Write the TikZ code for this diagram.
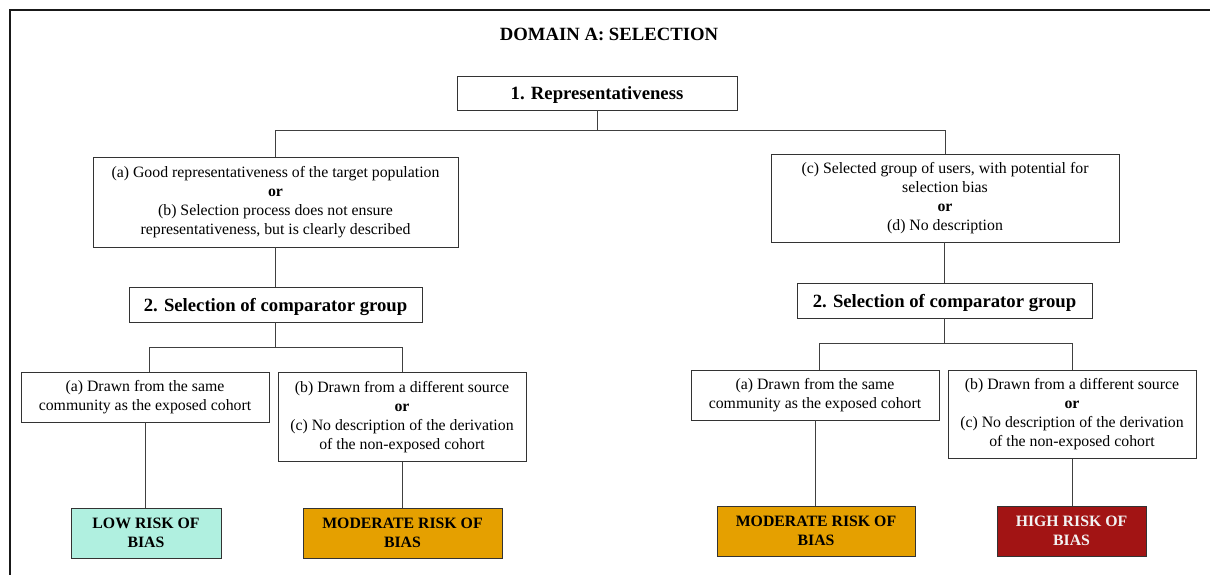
\documentclass[tikz,border=0pt]{standalone}
\usepackage{fontspec}
\setmainfont{Liberation Serif}
\definecolor{lowrisk}{RGB}{176,240,224}
\definecolor{modrisk}{RGB}{229,160,0}
\definecolor{highrisk}{RGB}{162,20,20}
\begin{document}
\begin{tikzpicture}[x=1pt,y=-1pt,
  frame/.style={draw=black!90, line width=1.6pt},
  box/.style={draw=black!80, line width=0.9pt, fill=white, align=center, inner sep=0pt,
    font=\fontsize{15.8}{19}\selectfont},
  head/.style={draw=black!80, line width=0.9pt, fill=white, inner sep=0pt, text depth=0pt,
    font=\fontsize{18.7}{22}\selectfont\bfseries},
  risk/.style={draw=black!80, line width=0.9pt, align=center, inner sep=0pt,
    font=\fontsize{15.8}{19}\selectfont\bfseries},
  link/.style={draw=black!75, line width=0.9pt},
  size/.style 2 args={minimum width=#1pt, minimum height=#2pt}]

\useasboundingbox (0,0) rectangle (1210,575);
\draw[frame] (10,575) -- (10,10) -- (1210,10);

% title and first question
\node[font=\fontsize{18.7}{22}\selectfont\bfseries] (title) at (609,34) {DOMAIN A: SELECTION};
\node[head, size={280}{34}] (r1) at (597,93) {1. Representativeness};

% answers to question 1
\node[box, size={365}{90}] (selA) at (275.5,202)
  {(a) Good representativeness of the target population\\
   \textbf{or}\\
   (b) Selection process does not ensure\\
   representativeness, but is clearly described};
\node[box, size={348}{88}] (selB) at (945,198)
  {(c) Selected group of users, with potential for\\
   selection bias\\
   \textbf{or}\\
   (d) No description};

% second question, per branch
\node[head, size={293}{35}] (cmpL) at (275.5,304.5) {2. Selection of comparator group};
\node[head, size={295}{35}] (cmpR) at (944.5,300.5) {2. Selection of comparator group};

% answers to question 2
\node[box, size={248}{50}] (la) at (145,397)
  {(a) Drawn from the same\\ community as the exposed cohort};
\node[box, size={248}{89}] (lb) at (402,417)
  {(b) Drawn from a different source\\ \textbf{or}\\
   (c) No description of the derivation\\ of the non-exposed cohort};
\node[box, size={248}{50}] (ra) at (815,395)
  {(a) Drawn from the same\\ community as the exposed cohort};
\node[box, size={248}{88}] (rb) at (1072,414.5)
  {(b) Drawn from a different source\\ \textbf{or}\\
   (c) No description of the derivation\\ of the non-exposed cohort};

% risk judgements
\node[risk, fill=lowrisk, size={150}{50}] (low) at (146,533) {LOW RISK OF\\ BIAS};
\node[risk, fill=modrisk, size={199}{50}] (modL) at (402.5,533) {MODERATE RISK OF\\ BIAS};
\node[risk, fill=modrisk, size={198}{50}] (modR) at (816,531) {MODERATE RISK OF\\ BIAS};
\node[risk, fill=highrisk, text=white!95!black, size={149}{50}] (high) at (1071.5,531) {HIGH RISK OF\\ BIAS};

% connectors
\coordinate (j1) at (597,130);
\coordinate (j2) at (275.5,347);
\coordinate (j3) at (944.5,343);
\draw[link] (r1.south) -- (j1);
\draw[link] (j1) -| (selA.north);
\draw[link] (j1) -| (selB.north);
\draw[link] (selA.south) -- (cmpL.north);
\draw[link] (cmpR.north |- selB.south) -- (cmpR.north);
\draw[link] (cmpL.south) -- (j2);
\draw[link] (j2) -| ([xshift=4pt]la.north);
\draw[link] (j2) -| (lb.north);
\draw[link] (cmpR.south) -- (j3);
\draw[link] (j3) -| ([xshift=4pt]ra.north);
\draw[link] (j3) -| (rb.north);
\draw[link] (la.south) -- (la.south |- low.north);
\draw[link] (lb.south) -- (lb.south |- modL.north);
\draw[link] (ra.south) -- (ra.south |- modR.north);
\draw[link] (rb.south) -- (rb.south |- high.north);
\end{tikzpicture}
\end{document}
